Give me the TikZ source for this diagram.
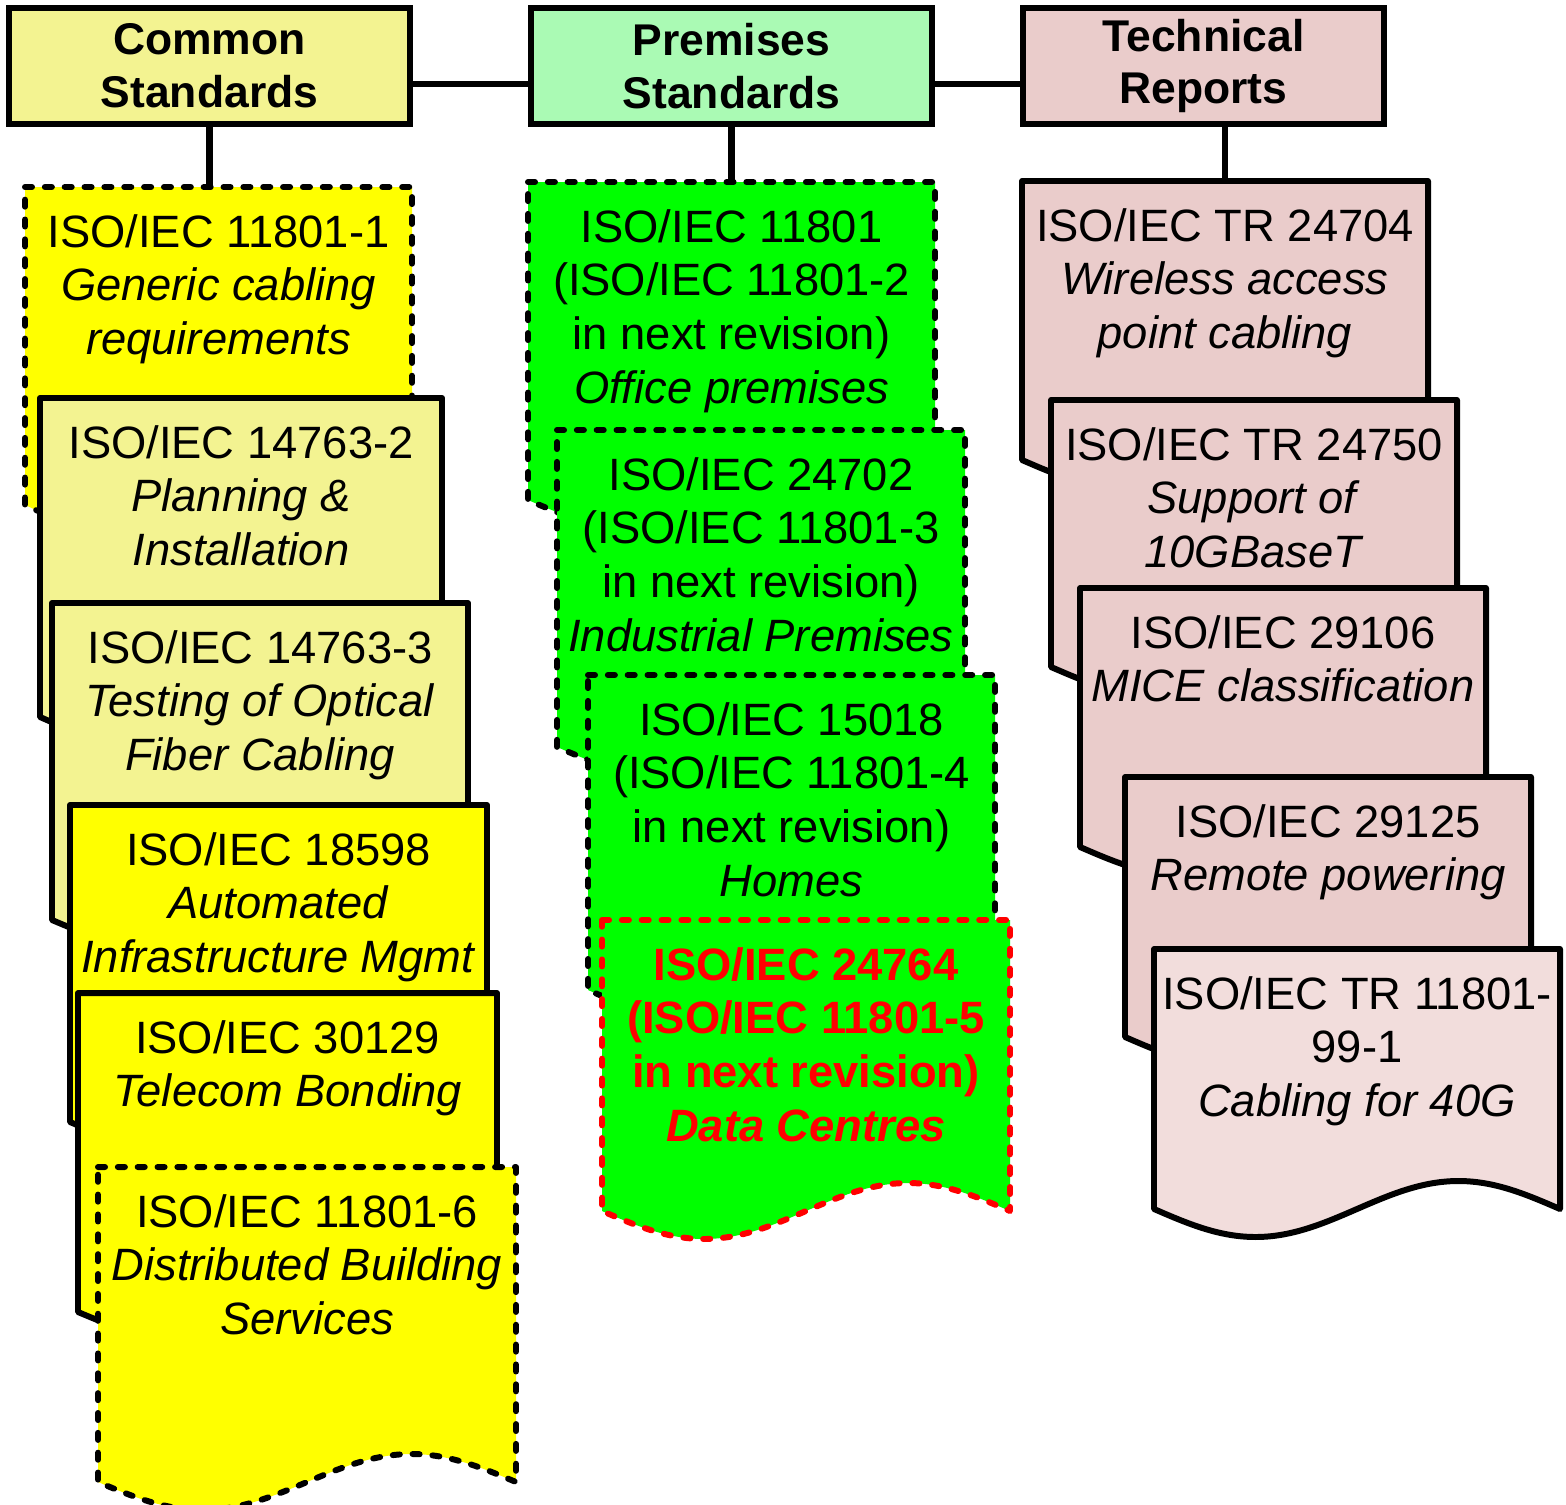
\documentclass[tikz,border=0pt]{standalone}
\usepackage{fontspec}
\setmainfont{Liberation Sans}
\usepackage{tikz}

\definecolor{headYellow}{RGB}{243,243,145}
\definecolor{docYellow}{RGB}{255,255,0}
\definecolor{headGreen}{RGB}{170,250,180}
\definecolor{docGreen}{RGB}{0,255,0}
\definecolor{docRose}{RGB}{234,204,203}
\definecolor{docRoseLight}{RGB}{242,221,220}
\definecolor{docRed}{RGB}{255,0,0}

\newcommand{\docfont}{\fontsize{25.8}{30.6}\selectfont}
\newcommand{\docstrut}{\rule{0pt}{22pt}}
\newcommand{\stddoc}[8]{%
    \coordinate (#1top) at (#3+#5/2, #4);
    \filldraw[#2] (#3, #4) -- ++(#5, 0) -- ++(0, #6)
        sin ++(-#5/4, -\waveA) cos ++(-#5/4, \waveA)
        sin ++(-#5/4, \waveA) cos ++(-#5/4, -\waveA) -- cycle;
    \node[doctext, #7] (#1) at (#3+#5/2, #4+21) {\docstrut #8};
}

\begin{document}
\begin{tikzpicture}[x=0.02cm, y=-0.02cm,
        solidline/.style={draw=black, line width=3.4pt, line join=round},
        dotline/.style={draw=black, line width=3.4pt, line join=round, line cap=round,
            dash pattern=on 4pt off 7.3pt},
        header/.style={draw, line width=3.4pt, inner sep=0pt, align=center,
            font=\fontsize{25.3}{30}\selectfont\bfseries, minimum height=2.32cm},
        doctext/.style={anchor=north, inner sep=0pt, align=center, font=\docfont},
        link/.style={line width=3.7pt}]
        \pgfmathsetmacro{\waveA}{28}

        \useasboundingbox (0, 0) rectangle (1566, 1505);

        \coordinate (linkrow) at (0, 84);

        \node[header, fill=headYellow, minimum width=8.02cm] (common) at (209.5, 66)
            {Common\\Standards};
        \node[header, fill=headGreen, minimum width=8.02cm] (premises) at (731.5, 66)
            {Premises\\Standards};
        \node[header, fill=docRose, minimum width=7.22cm] (technical) at (1203.5, 66)
            {Technical\\Reports};

        \draw[link] (common.east |- linkrow) -- (premises.west |- linkrow);
        \draw[link] (premises.east |- linkrow) -- (technical.west |- linkrow);

        \coordinate (cs1top) at (210, 187);
        \draw[link] (common.south) -- (common.south |- cs1top);
        \draw[link] (premises.south) -- (premises.south |- cs1top);
        \draw[link] (1225, 181) -- (technical.south -| 1225, 0);

        \stddoc{cs1}{dotline, fill=docYellow}{25}{187}{387}{318}{}
            {ISO/IEC 11801-1\\\textit{Generic cabling}\\\textit{requirements}}
        \stddoc{cs2}{solidline, fill=headYellow}{40}{398}{402}{319}{}
            {ISO/IEC 14763-2\\\textit{Planning \&}\\\textit{Installation}}
        \stddoc{cs3}{solidline, fill=headYellow}{52}{603}{416}{317}{}
            {ISO/IEC 14763-3\\\textit{Testing of Optical}\\\textit{Fiber Cabling}}
        \stddoc{cs4}{solidline, fill=docYellow}{70}{805}{417}{317}{}
            {ISO/IEC 18598\\\textit{Automated}\\\textit{Infrastructure Mgmt}}
        \stddoc{cs5}{solidline, fill=docYellow}{78}{993}{419}{319}{}
            {ISO/IEC 30129\\\textit{Telecom Bonding}}
        \stddoc{cs6}{dotline, fill=docYellow}{98}{1167}{418}{315}{}
            {ISO/IEC 11801-6\\\textit{Distributed Building}\\\textit{Services}}

        \stddoc{ps1}{dotline, fill=docGreen}{528}{182}{407}{318}{}
            {ISO/IEC 11801\\(ISO/IEC 11801-2\\in next revision)\\\textit{Office premises}}
        \stddoc{ps2}{dotline, fill=docGreen}{557}{430}{408}{317}{}
            {ISO/IEC 24702\\(ISO/IEC 11801-3\\in next revision)\\\textit{Industrial Premises}}
        \stddoc{ps3}{dotline, fill=docGreen}{588}{675}{407}{315}{}
            {ISO/IEC 15018\\(ISO/IEC 11801-4\\in next revision)\\\textit{Homes}}
        \stddoc{ps4}{dotline, draw=docRed, fill=docGreen}{602}{920}{408}{291}
            {text=docRed, font=\docfont\bfseries}
            {ISO/IEC 24764\\(ISO/IEC 11801-5\\in next revision)\\\textit{Data Centres}}

        \stddoc{tr1}{solidline, fill=docRose}{1022}{181}{406}{279}{}
            {ISO/IEC TR 24704\\\textit{Wireless access}\\\textit{point cabling}}
        \stddoc{tr2}{solidline, fill=docRose}{1051}{400}{406}{267}{}
            {ISO/IEC TR 24750\\\textit{Support of}\\\textit{10GBaseT}}
        \stddoc{tr3}{solidline, fill=docRose}{1080}{588}{406}{259}{}
            {ISO/IEC 29106\\\textit{MICE classification}}
        \stddoc{tr4}{solidline, fill=docRose}{1125}{777}{406}{260}{}
            {ISO/IEC 29125\\\textit{Remote powering}}
        \stddoc{tr5}{solidline, fill=docRoseLight}{1154}{949}{406}{260}{}
            {ISO/IEC TR 11801-\\99-1\\\textit{Cabling for 40G}}
    \end{tikzpicture}
\end{document}
